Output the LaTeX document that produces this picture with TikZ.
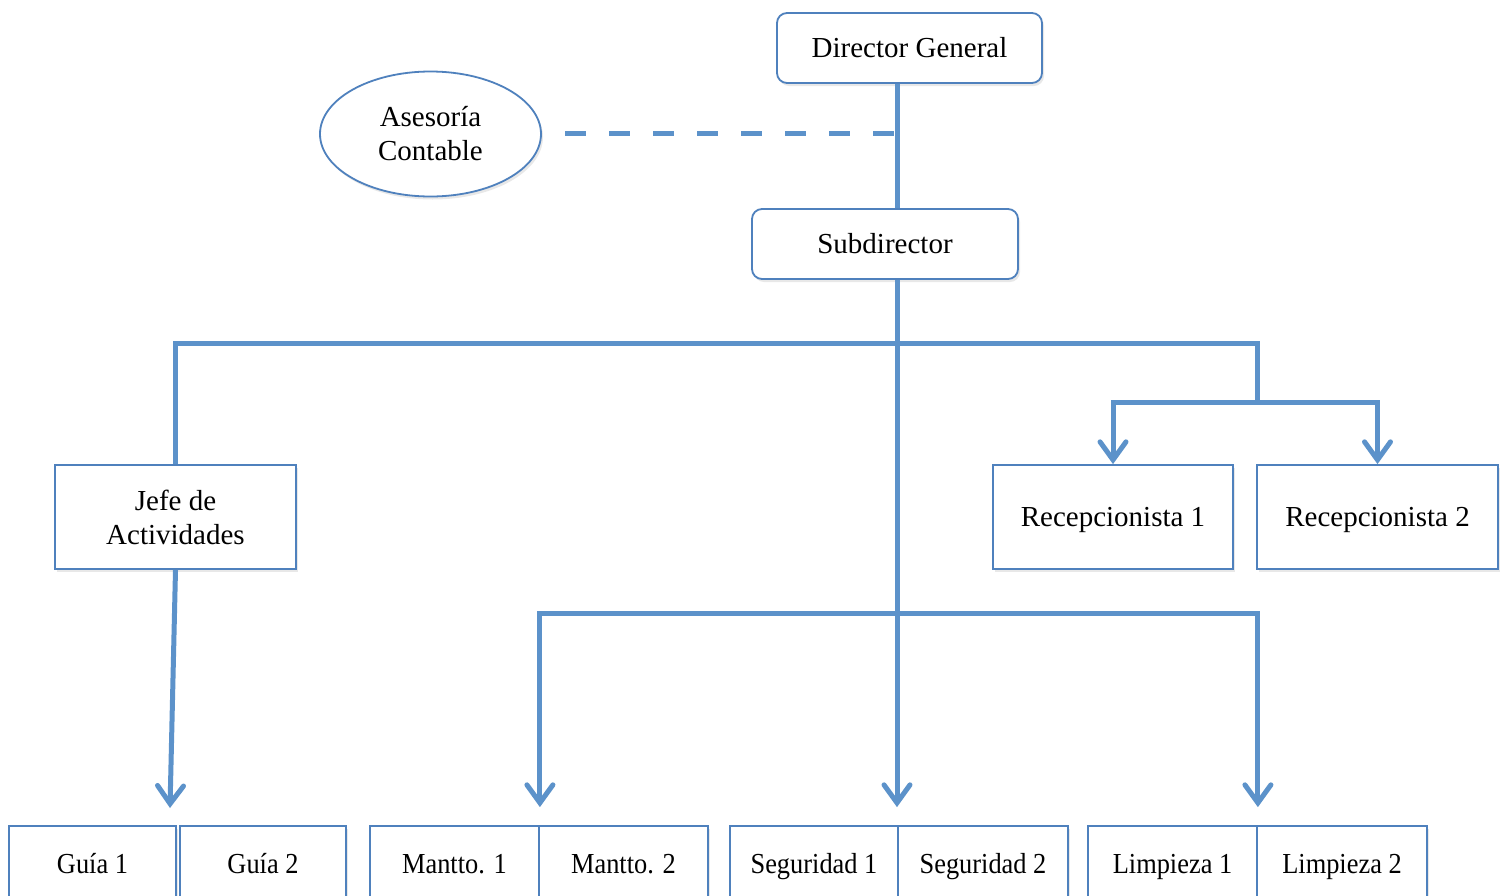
\documentclass[tikz,border=0pt]{standalone}
\usepackage{fontspec}
\setmainfont{Liberation Serif}
\usetikzlibrary{arrows.meta,shapes.geometric,shadows}
\definecolor{boxblue}{RGB}{79,129,189}
\definecolor{lineblue}{RGB}{92,146,202}
\newcommand{\narrowtxt}[1]{\scalebox{0.91}[1]{#1}}
\begin{document}
\begin{tikzpicture}[x=1pt,y=-1pt,
  every node/.style={font=\fontsize{29}{34}\selectfont, inner sep=0pt, align=center},
  shad/.style={drop shadow={opacity=0.18, shadow xshift=2pt, shadow yshift=-3pt}},
  rbox/.style={draw=boxblue, line width=1.8pt, fill=white, rounded corners=10pt, shad},
  sbox/.style={draw=boxblue, line width=1.8pt, fill=white, shad},
  ebox/.style={draw=boxblue, line width=1.8pt, fill=white, ellipse, shad},
  bbox/.style={sbox, minimum height=74, text height=27pt, text depth=7pt},
  recbox/.style={sbox, minimum width=241, minimum height=104, text height=26pt, text depth=6.3pt},
  conn/.style={draw=lineblue, line width=5pt},
  arr/.style={conn, -{Straight Barb[length=18pt,width=26pt,line width=5pt,line cap=round]}},
  dconn/.style={draw=lineblue, line width=5pt, dash pattern=on 21pt off 23pt}]
\clip (0,0) rectangle (1505,895);
\useasboundingbox (0,0) rectangle (1505,895);
\fill[white] (0,0) rectangle (1505,895);

% nodes
\node[rbox, minimum width=265, minimum height=70] (dg) at (909.5,48) {Director General};
\node[rbox, minimum width=266, minimum height=70] (sub) at (885,244) {Subdirector};
\node[ebox, minimum width=221, minimum height=125] (ase) at (430.5,134) {Asesoría\\Contable};
\node[sbox, minimum width=241, minimum height=104] (jefe) at (175.5,517) {Jefe de\\Actividades};
\node[recbox, minimum width=240] (rec1) at (1113,517) {Recepcionista 1};
\node[recbox] (rec2) at (1377.5,517) {Recepcionista 2};

\node[bbox, minimum width=167] (gui1) at (92.5,863) {\narrowtxt{Guía 1}};
\node[bbox, minimum width=166] (gui2) at (263,863) {\narrowtxt{Guía 2}};
\node[bbox, minimum width=169] (man1) at (454.5,863) {\narrowtxt{Mantto. 1}};
\node[bbox, minimum width=169] (man2) at (623.5,863) {\narrowtxt{Mantto. 2}};
\node[bbox, minimum width=168] (seg1) at (814,863) {\narrowtxt{Seguridad 1}};
\node[bbox, minimum width=170] (seg2) at (983,863) {\narrowtxt{Seguridad 2}};
\node[bbox, minimum width=169] (lim1) at (1172.5,863) {\narrowtxt{Limpieza 1}};
\node[bbox, minimum width=170] (lim2) at (1342,863) {\narrowtxt{Limpieza 2}};

% junction coordinates
\coordinate (h1) at (897,343);
\coordinate (rr) at (1257,402);
\coordinate (h2) at (897,613);
\coordinate (dstart) at (565,133);
\coordinate (gtip) at (170,808);

% connectors
\draw[conn] (dg.south -| h1) -- (sub.north -| h1);
\draw[dconn] (dstart) -- (dstart -| h1);
\draw[conn] (sub.south -| h1) -- (h1);
\draw[conn] (jefe.north) |- (h1) -| (rr);
\draw[arr] (rr) -| (rec1.north);
\draw[arr] (rr) -| (rec2.north);
\draw[conn] (h1) -- (h2);
\draw[arr, shorten >=18pt] (h2) -- (h2 |- seg1.north);
\draw[arr, shorten >=18pt] (h2) -| (man1.north east);
\draw[arr, shorten >=18pt] (h2) -| (lim1.north east);
\draw[arr] (jefe.south) -- (gtip);
\end{tikzpicture}
\end{document}
